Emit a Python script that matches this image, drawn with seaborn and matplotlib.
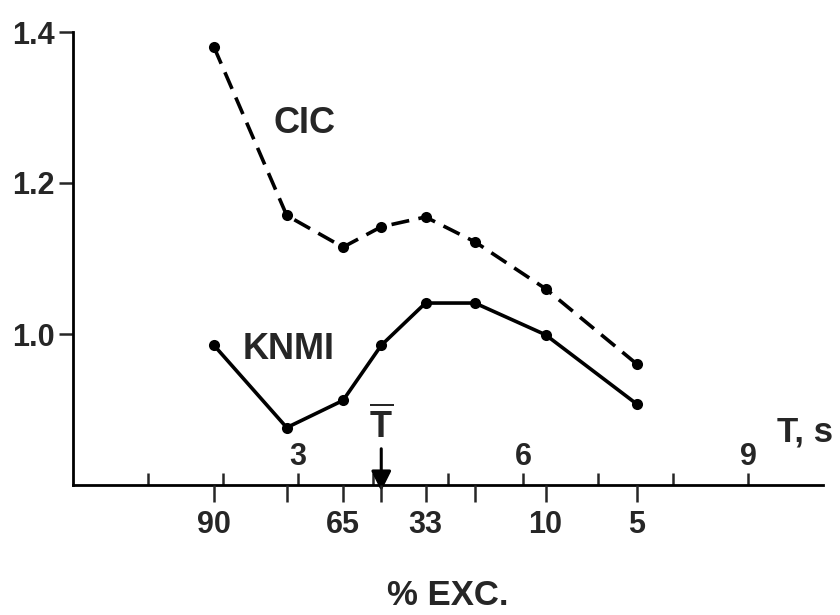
import matplotlib
matplotlib.use("Agg")
import matplotlib.pyplot as plt
import seaborn as sns
import pandas as pd

# ---- data ----
period_s = [1.88, 2.85, 3.60, 4.11, 4.70, 5.36, 6.30, 7.52]
exc_labels = ["90", "", "65", "", "33", "", "10", "5"]
cic = [1.380, 1.157, 1.115, 1.142, 1.155, 1.122, 1.060, 0.960]
knmi = [0.985, 0.876, 0.912, 0.985, 1.041, 1.041, 0.999, 0.907]
t_ticks = [1, 2, 3, 4, 5, 6, 7, 8, 9]
t_labels = ["", "", "3", "", "", "6", "", "", "9"]
y_ticks = [1.0, 1.2, 1.4]
y_labels = ["1.0", "1.2", "1.4"]
T_mean = 4.11

df = pd.concat([
    pd.DataFrame({"T": period_s, "ratio": cic, "source": "CIC"}),
    pd.DataFrame({"T": period_s, "ratio": knmi, "source": "KNMI"}),
])

sns.set_style("ticks")
plt.rcParams["font.family"] = ["Liberation Sans", "DejaVu Sans"]
plt.rcParams["font.weight"] = "bold"
plt.rcParams["mathtext.fontset"] = "custom"
plt.rcParams["mathtext.bf"] = "Liberation Sans:bold"
plt.rcParams["mathtext.rm"] = "Liberation Sans:bold"

fig = plt.figure(figsize=(8.4, 6.15), dpi=100)
ax = fig.add_axes([73 / 840, 1 - 485 / 615, 750 / 840, (485 - 32) / 615])

sns.lineplot(data=df, x="T", y="ratio", style="source", color="black",
             dashes={"CIC": (5, 2.6), "KNMI": ""},
             markers={"CIC": "o", "KNMI": "o"}, markersize=8,
             markeredgewidth=0, linewidth=2.6, legend=False, ax=ax)

ax.set_xlim(0, 10)
ax.set_ylim(0.8, 1.4)
sns.despine(ax=ax)
for s in ["left", "bottom"]:
    ax.spines[s].set_linewidth(2.0)
    ax.spines[s].set_color("black")

ax.set_yticks(y_ticks, labels=y_labels)
ax.tick_params(axis="y", direction="out", length=10, width=1.8, pad=3,
               labelsize=22)
ax.set_xticks(t_ticks, labels=t_labels)
ax.tick_params(axis="x", direction="in", length=9, width=1.8, pad=-31,
               labelsize=22)
ax.set_xlabel("")
ax.set_ylabel("")

# secondary scale: % exceedance
ax2 = ax.twiny()
ax2.set_xlim(ax.get_xlim())
ax2.xaxis.set_ticks_position("bottom")
ax2.xaxis.set_label_position("bottom")
for s in ax2.spines.values():
    s.set_visible(False)
ax2.set_xticks(period_s, labels=exc_labels)
ax2.tick_params(axis="x", direction="out", length=12, width=1.8, pad=6,
                labelsize=22)
ax2.set_xlabel("% EXC.", fontsize=25, fontweight="bold", labelpad=28)

# annotations
ax.text(3.09, 1.279, "CIC", fontsize=26, fontweight="bold",
        ha="center", va="center")
ax.text(2.87, 0.980, "KNMI", fontsize=26, fontweight="bold",
        ha="center", va="center")
ax.text(9.76, 0.870, "T, s", fontsize=25, fontweight="bold",
        ha="center", va="center", clip_on=False)
ax.annotate("", xy=(T_mean, 0.792), xytext=(T_mean, 0.848),
            arrowprops=dict(arrowstyle="-|>", color="black", lw=2.2,
                            mutation_scale=30, shrinkA=0, shrinkB=0),
            annotation_clip=False)
ax.text(T_mean, 0.878, r"$\mathbf{\overline{T}}$", fontsize=26,
        ha="center", va="center")

fig.savefig("out.png", dpi=100)
